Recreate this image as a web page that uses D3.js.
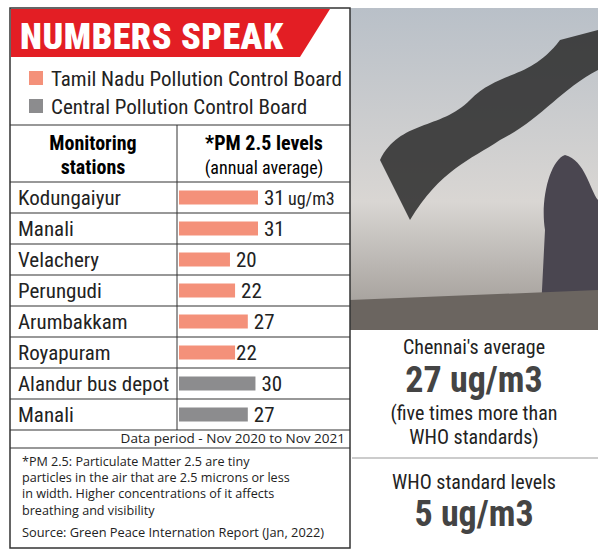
<!DOCTYPE html><html><head><meta charset="utf-8"><script src="https://cdn.jsdelivr.net/npm/d3@7"></script>
<style>body{margin:0;background:#fff}</style></head><body><script>
const stations=["Kodungaiyur","Manali","Velachery","Perungudi","Arumbakkam","Royapuram","Alandur bus depot","Manali"];
const values=[31,31,20,22,27,22,30,27];
const boards=["TNPCB","TNPCB","TNPCB","TNPCB","TNPCB","TNPCB","CPCB","CPCB"];
const legend=["Tamil Nadu Pollution Control Board","Central Pollution Control Board"];
const colors={TNPCB:"#f4917a",CPCB:"#8c8c8e"};
const svg=d3.select("body").append("svg").attr("width",600).attr("height",550);
const F="Roboto Condensed, Roboto, Liberation Sans Narrow, sans-serif";
const line="#333";
const defs=svg.append("defs");
const g1=defs.append("linearGradient").attr("id","sky").attr("x1",0).attr("y1",0).attr("x2",0).attr("y2",1);
g1.append("stop").attr("offset",0).attr("stop-color","#b9c0c8");g1.append("stop").attr("offset",0.6).attr("stop-color","#d9d6d3");g1.append("stop").attr("offset",1).attr("stop-color","#9a9590");
svg.append("rect").attr("x",350).attr("y",8).attr("width",248).attr("height",322).attr("fill","url(#sky)");
svg.append("path").attr("d","M380,160 C400,120 440,130 470,100 C500,70 530,80 560,40 L598,30 L598,70 C560,90 540,120 500,140 C470,160 440,170 410,220 Z").attr("fill","#2a2a2a").attr("opacity",0.85);
svg.append("path").attr("d","M540,330 L545,230 C540,200 550,160 565,155 C585,160 590,190 598,200 L598,330 Z").attr("fill","#4a4650");
svg.append("path").attr("d","M350,300 L598,290 L598,330 L350,330Z").attr("fill","#6b6560");
const rt=[["Chennai's average",354,20,"400"],["27 ug/m3",392,36,"700"],["(five times more than",420,20,"400"],["WHO standards)",444,20,"400"],["WHO standard levels",489,20,"400"],["5 ug/m3",526,36,"700"]];
rt.forEach(t=>svg.append("text").attr("x",474).attr("y",t[1]).attr("text-anchor","middle").attr("font-family",F).attr("font-size",t[2]).attr("font-weight",t[3]).attr("fill",t[3]=="700"?"#444":"#222").text(t[0]));
svg.append("line").attr("x1",352).attr("x2",598).attr("y1",458).attr("y2",458).attr("stroke","#999");
svg.append("rect").attr("x",10).attr("y",8).attr("width",340).attr("height",540).attr("fill","none").attr("stroke",line).attr("stroke-width",1.5);
svg.append("path").attr("d","M11,9 L330,9 L300,57 L11,57Z").attr("fill","#e31e24");
svg.append("text").attr("x",20).attr("y",49).attr("font-family",F).attr("font-weight",900).attr("font-size",36).attr("fill","#fff").attr("textLength",263).text("NUMBERS SPEAK");
legend.forEach((l,i)=>{svg.append("rect").attr("x",29).attr("y",71+i*28).attr("width",14).attr("height",14).attr("fill",i?colors.CPCB:colors.TNPCB);
svg.append("text").attr("x",51).attr("y",86+i*28).attr("font-family",F).attr("font-size",21).attr("fill","#222").text(l);});
const y=d3.scaleBand().domain(d3.range(stations.length)).range([182,430]);
const x=d3.scaleLinear().domain([0,31]).range([179,258]);
const hl=[125,...d3.range(stations.length+1).map(i=>182+i*31),448];
hl.forEach(v=>svg.append("line").attr("x1",10).attr("x2",350).attr("y1",v).attr("y2",v).attr("stroke",line).attr("stroke-width",1.2));
svg.append("line").attr("x1",177).attr("x2",177).attr("y1",125).attr("y2",430).attr("stroke",line);
svg.append("text").attr("x",93).attr("y",150).attr("text-anchor","middle").attr("font-family",F).attr("font-weight",700).attr("font-size",20).text("Monitoring");
svg.append("text").attr("x",93).attr("y",174).attr("text-anchor","middle").attr("font-family",F).attr("font-weight",700).attr("font-size",20).text("stations");
svg.append("text").attr("x",264).attr("y",150).attr("text-anchor","middle").attr("font-family",F).attr("font-weight",700).attr("font-size",20).text("*PM 2.5 levels");
svg.append("text").attr("x",264).attr("y",174).attr("text-anchor","middle").attr("font-family",F).attr("font-size",18).text("(annual average)");
stations.forEach((s,i)=>{const c=y(i)+y.bandwidth()/2;
svg.append("text").attr("x",18).attr("y",c+7).attr("font-family",F).attr("font-size",21).attr("fill","#222").text(s);
svg.append("rect").attr("x",x(0)).attr("y",c-7).attr("width",x(values[i])-x(0)).attr("height",14).attr("fill",colors[boards[i]]);
svg.append("text").attr("x",x(values[i])+(i==5?1:6)).attr("y",c+7).attr("font-family",F).attr("font-size",21).attr("fill","#222").text(values[i]);
if(i==0)svg.append("text").attr("x",x(values[i])+30).attr("y",c+7).attr("font-family",F).attr("font-size",18).attr("fill","#222").text("ug/m3");});
svg.append("text").attr("x",345).attr("y",443).attr("text-anchor","end").attr("font-family","Open Sans, sans-serif").attr("font-size",13.5).attr("fill","#222").text("Data period - Nov 2020 to Nov 2021");
["*PM 2.5: Particulate Matter 2.5 are tiny","particles in the air that are 2.5 microns or less","in width. Higher concentrations of it affects","breathing and visibility"].forEach((t,i)=>svg.append("text").attr("x",22).attr("y",466+i*16.2).attr("font-family","Open Sans, sans-serif").attr("font-size",12.6).attr("fill","#222").text(t));
svg.append("text").attr("x",22).attr("y",537).attr("font-family","Open Sans, sans-serif").attr("font-size",12.8).attr("fill","#222").text("Source: Green Peace Internation Report (Jan, 2022)");
</script></body></html>
